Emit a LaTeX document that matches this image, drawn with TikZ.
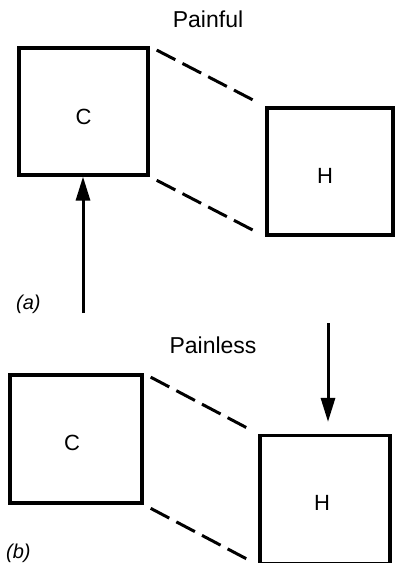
\documentclass[tikz,border=0pt]{standalone}
\usepackage{fontspec}
\setmainfont{Liberation Sans}
\usetikzlibrary{arrows.meta}
\begin{document}
\begin{tikzpicture}[x=1pt,y=-1pt,
  box/.style={draw,line width=3.2pt,minimum width=#1,inner sep=0pt},
  letter/.style={inner sep=0pt,font=\fontsize{22}{24}\selectfont},
  link/.style={line width=3pt,dash pattern=on 21pt off 8pt,shorten <=8pt,shorten >=10pt},
  push/.style={line width=3pt,-{Triangle[length=24pt,width=14pt]}},
  caption/.style={anchor=base,inner sep=0pt,font=\fontsize{23}{25}\selectfont},
  tag/.style={anchor=base west,inner sep=0pt,font=\fontsize{20}{22}\selectfont\itshape}]
  \useasboundingbox (0,0) rectangle (395,563);
  \clip (0,0) rectangle (395,563);

  % (a) painful
  \node[caption] (painful) at (208,27) {Painful};
  \node[box=129pt,minimum height=127pt] (c1) at (83.5,111.5) {};
  \node[box=126pt,minimum height=127pt] (h1) at (330,171.5) {};
  \node[letter] (c1t) at ([yshift=-5pt]c1.center) {C};
  \node[letter] (h1t) at ([yshift=-4pt,xshift=-5pt]h1.center) {H};
  \draw[link] (c1.north east) -- (h1.north west);
  \draw[link] (c1.south east) -- (h1.south west);
  \coordinate (p1) at (83,313);
  \draw[push] (p1) -- (p1 |- c1.south);
  \node[tag] (ta) at (16,309) {(a)};

  % (b) painless
  \node[caption] (painless) at (213,353) {Painless};
  \node[box=132pt,minimum height=128pt] (c2) at (76,439) {};
  \node[box=130pt,minimum height=128pt] (h2) at (325,499.5) {};
  \node[letter] (c2t) at ([yshift=-4pt,xshift=-4pt]c2.center) {C};
  \node[letter] (h2t) at ([yshift=-3pt,xshift=-3pt]h2.center) {H};
  \draw[link] (c2.north east) -- (h2.north west);
  \draw[link] (c2.south east) -- (h2.south west);
  \coordinate (p2) at (328,323);
  \draw[push,shorten >=12pt] (p2) -- (p2 |- h2.north);
  \node[tag] (tb) at (6,558) {(b)};
\end{tikzpicture}
\end{document}
